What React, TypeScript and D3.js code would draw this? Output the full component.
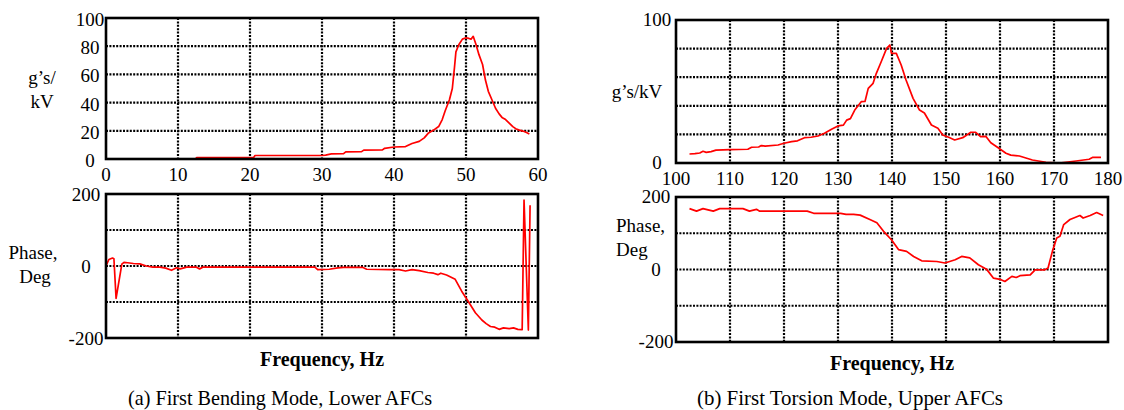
import React from "react";
import * as d3 from "d3";

// Measured frequency response, first bending mode (lower AFCs): [Hz, g's/kV]
const bendingMagnitude: [number, number][] = [
  [0, 0], [12.4, 0], [12.6, 1], [20.5, 1], [20.7, 2.5], [30, 2.5], [30.5, 2.8], [31.3, 3.6],
  [33, 3.8], [33.3, 5], [35.5, 5.2], [35.8, 6.3], [38.4, 6.5], [38.7, 7.6], [40, 8.5], [41.6, 8.8],
  [42.5, 11], [43.5, 12.5], [44.2, 15], [44.8, 18.5], [45.5, 20.5], [46.2, 23], [46.7, 28],
  [47.1, 34], [47.7, 42], [48.1, 50], [48.4, 65], [48.6, 76], [49, 81], [49.5, 85], [50, 86],
  [50.4, 85.5], [50.7, 85], [51, 87], [51.4, 81], [51.8, 74], [52.3, 67], [52.7, 56], [53.1, 48],
  [53.6, 42], [54.1, 36], [54.6, 32], [55, 29.5], [55.5, 28], [56, 25.5], [56.5, 23], [56.9, 21.5],
  [57.4, 20.5], [57.9, 19.8], [58.4, 18.8], [58.8, 17.8],
];

// Phase, first bending mode: [Hz, deg]
const bendingPhase: [number, number][] = [
  [0, 0], [0.4, 18], [0.9, 22], [1.1, 20], [1.4, -90], [2.2, 5], [2.5, 10], [3, 9], [3.8, 7],
  [4.7, 6], [5.6, 0], [6.5, -3], [7.5, -3], [8.3, -6], [9.1, -12], [9.8, -5], [10.3, -8],
  [11.2, -3], [12.5, -3], [13, -8], [13.5, -3], [20, -3], [29, -3], [29.4, -10], [31, -9],
  [32.2, -5], [33, -4], [35.7, -4], [36.2, -9], [39.4, -10], [40.7, -10], [41.6, -14],
  [42.5, -10], [43.5, -13], [44.7, -18], [45.5, -20], [46.1, -24], [46.5, -20], [47.3, -25],
  [48.5, -37], [49.4, -70], [50.3, -98], [51.3, -130], [52.2, -150], [52.8, -160], [53.4, -168],
  [54, -170], [54.6, -176], [55.2, -172], [56, -174], [56.6, -172], [57.2, -176], [57.8, -177],
  [58.06, 183], [58.66, -178], [58.9, 169],
];

// Measured frequency response, first torsion mode (upper AFCs): [Hz, g's/kV]
const torsionMagnitude: [number, number][] = [
  [102.5, 6.3], [103.5, 6.5], [104.4, 7], [105, 8.2], [105.6, 7.4], [106.5, 8], [107.4, 9],
  [110, 9.4], [113.3, 9.6], [114, 11], [115.3, 11.2], [115.8, 12.2], [116.5, 11.8], [118.9, 12.6],
  [120, 13.8], [121.4, 14.9], [122.5, 15.5], [123.8, 17.7], [125, 18], [126.3, 18.9],
  [127.5, 20.8], [128.8, 23.6], [130, 25.9], [131, 26.5], [131.6, 30], [132.3, 31], [133.1, 37],
  [134.3, 42.9], [135, 43], [135.6, 52.2], [136.5, 55.7], [137.1, 62.7], [138, 70.8], [139, 80.2],
  [139.6, 82.5], [139.9, 76.7], [140.8, 76.7], [141.7, 68.5], [142.6, 58], [143.9, 45.2],
  [145.1, 37], [146, 35], [147.3, 26.6], [148.5, 24.3], [149.4, 19.6], [150.5, 18], [151.6, 16.1],
  [153.1, 17.7], [154.6, 21.5], [155.5, 21.5], [156.4, 18.4], [157.4, 18.6], [158.3, 14.2],
  [159.8, 10.3], [161.1, 6.8], [162, 5.5], [163.6, 4.9], [166, 2.1], [168.5, 0.5], [171, 0],
  [174.1, 1.4], [176.5, 2.6], [177.2, 4], [178.7, 4],
];

// Phase, first torsion mode: [Hz, deg]
const torsionPhase: [number, number][] = [
  [102.5, 168], [103.8, 161], [105, 168], [106.9, 161], [108.1, 168], [112.4, 168], [113.6, 161],
  [114.9, 166], [115.5, 161], [120, 161], [124.3, 161], [125.5, 155], [130.5, 155], [131.5, 152],
  [132.9, 152], [134.1, 150], [135.9, 138], [137.2, 129], [138.4, 106], [139.9, 82], [141.2, 55],
  [142.7, 50], [144, 36], [145.5, 24], [148.3, 22], [149.8, 18], [151.7, 27], [152.9, 36],
  [154.4, 32], [156, 13], [157.5, 1], [158.8, -24], [160, -27], [160.9, -33], [162.2, -19],
  [163, -22], [163.7, -17], [165.6, -15], [166.5, -1], [168.3, -1], [168.9, 4], [169.7, 50],
  [170.5, 87], [171.1, 92], [171.8, 124], [172.96, 138], [174.8, 149], [175.4, 142], [176.7, 149],
  [177.9, 157], [179.1, 149],
];

// Tick values
const bendingFreqTicks = [0, 10, 20, 30, 40, 50, 60];
const bendingMagTicks = [0, 20, 40, 60, 80, 100];
const torsionFreqTicks = [100, 110, 120, 130, 140, 150, 160, 170, 180];
const torsionMagLabels = [0, 100];
const torsionMagGrid = [20, 40, 60, 80];
const phaseLabels = [-200, 0, 200];
const phaseGrid = [-100, 0, 100];

const FONT = '"Liberation Serif", "DejaVu Serif", "Times New Roman", Times, serif';
const RED = "#ff0000";

const txt = (size: number, weight: string = "normal"): React.CSSProperties => ({
  fontFamily: FONT,
  fontSize: size + "px",
  fontWeight: weight as any,
});

type PanelProps = {
  x0: number; x1: number; y0: number; y1: number;
  xDomain: [number, number]; yDomain: [number, number];
  vGrid: number[]; hGrid: number[];
  data: [number, number][];
  xLabels?: number[]; xLabelY?: number;
  yLabels: number[]; yLabelX: number; yLabelDy: number;
};

function Panel(p: PanelProps) {
  const x = d3.scaleLinear().domain(p.xDomain).range([p.x0, p.x1]);
  const y = d3.scaleLinear().domain(p.yDomain).range([p.y1, p.y0]);
  const line = d3.line<[number, number]>().x((d) => x(d[0])).y((d) => y(d[1]));
  return (
    <g>
      {p.vGrid.map((v) => (
        <line key={"v" + v} x1={x(v)} x2={x(v)} y1={p.y0} y2={p.y1}
          stroke="#000" strokeWidth={2.2} strokeDasharray="2,1.4" />
      ))}
      {p.hGrid.map((v) => (
        <line key={"h" + v} x1={p.x0} x2={p.x1} y1={y(v)} y2={y(v)}
          stroke="#000" strokeWidth={2.2} strokeDasharray="2,1.4" />
      ))}
      <path d={line(p.data) || ""} fill="none" stroke={RED} strokeWidth={1.7} strokeLinejoin="round" />
      <rect x={p.x0} y={p.y0} width={p.x1 - p.x0} height={p.y1 - p.y0}
        fill="none" stroke="#000" strokeWidth={2.6} />
      {(p.xLabels || []).map((v) => (
        <text key={"xl" + v} x={x(v)} y={p.xLabelY} textAnchor="middle" style={txt(19)}>{v}</text>
      ))}
      {p.yLabels.map((v) => (
        <text key={"yl" + v} x={p.yLabelX} y={y(v) + p.yLabelDy} textAnchor="middle" style={txt(19)}>{v}</text>
      ))}
    </g>
  );
}

export default function App() {
  return (
    <svg width={1124} height={410} style={{ position: "absolute", left: 0, top: 0, background: "#fff" }}>
      {/* (a) bending mode */}
      <Panel x0={106} x1={538} y0={18} y1={159} xDomain={[0, 60]} yDomain={[0, 100]}
        vGrid={[10, 20, 30, 40, 50]} hGrid={[20, 40, 60, 80]} data={bendingMagnitude}
        xLabels={bendingFreqTicks} xLabelY={181}
        yLabels={bendingMagTicks} yLabelX={90} yLabelDy={8} />
      <Panel x0={106} x1={538} y0={194} y1={338} xDomain={[0, 60]} yDomain={[-200, 200]}
        vGrid={[10, 20, 30, 40, 50]} hGrid={phaseGrid} data={bendingPhase}
        yLabels={phaseLabels} yLabelX={86} yLabelDy={7} />
      <text x={42} y={84} textAnchor="middle" style={txt(19)}>g’s/</text>
      <text x={42} y={108} textAnchor="middle" style={txt(19)}>kV</text>
      <text x={33} y={259} textAnchor="middle" style={txt(19)}>Phase,</text>
      <text x={35} y={283} textAnchor="middle" style={txt(19)}>Deg</text>
      <text x={322} y={366} textAnchor="middle" style={txt(20, "bold")}>Frequency, Hz</text>
      <text x={280} y={405} textAnchor="middle" style={txt(22)}
        textLength={304} lengthAdjust="spacingAndGlyphs">(a)  First Bending Mode, Lower AFCs</text>

      {/* (b) torsion mode */}
      <Panel x0={676} x1={1108} y0={20} y1={163} xDomain={[100, 180]} yDomain={[0, 100]}
        vGrid={[110, 120, 130, 140, 150, 160, 170]} hGrid={torsionMagGrid} data={torsionMagnitude}
        xLabels={torsionFreqTicks} xLabelY={185}
        yLabels={torsionMagLabels} yLabelX={657} yLabelDy={6} />
      <Panel x0={676} x1={1108} y0={197} y1={342} xDomain={[100, 180]} yDomain={[-200, 200]}
        vGrid={[110, 120, 130, 140, 150, 160, 170]} hGrid={phaseGrid} data={torsionPhase}
        yLabels={phaseLabels} yLabelX={656} yLabelDy={6} />
      <text x={637} y={98} textAnchor="middle" style={txt(19)}>g’s/kV</text>
      <text x={616} y={232} textAnchor="start" style={txt(19)}>Phase,</text>
      <text x={616} y={256} textAnchor="start" style={txt(19)}>Deg</text>
      <text x={892} y={370} textAnchor="middle" style={txt(20, "bold")}>Frequency, Hz</text>
      <text x={850} y={405} textAnchor="middle" style={txt(22)}
        textLength={306} lengthAdjust="spacingAndGlyphs">(b)  First Torsion Mode, Upper AFCs</text>
    </svg>
  );
}
